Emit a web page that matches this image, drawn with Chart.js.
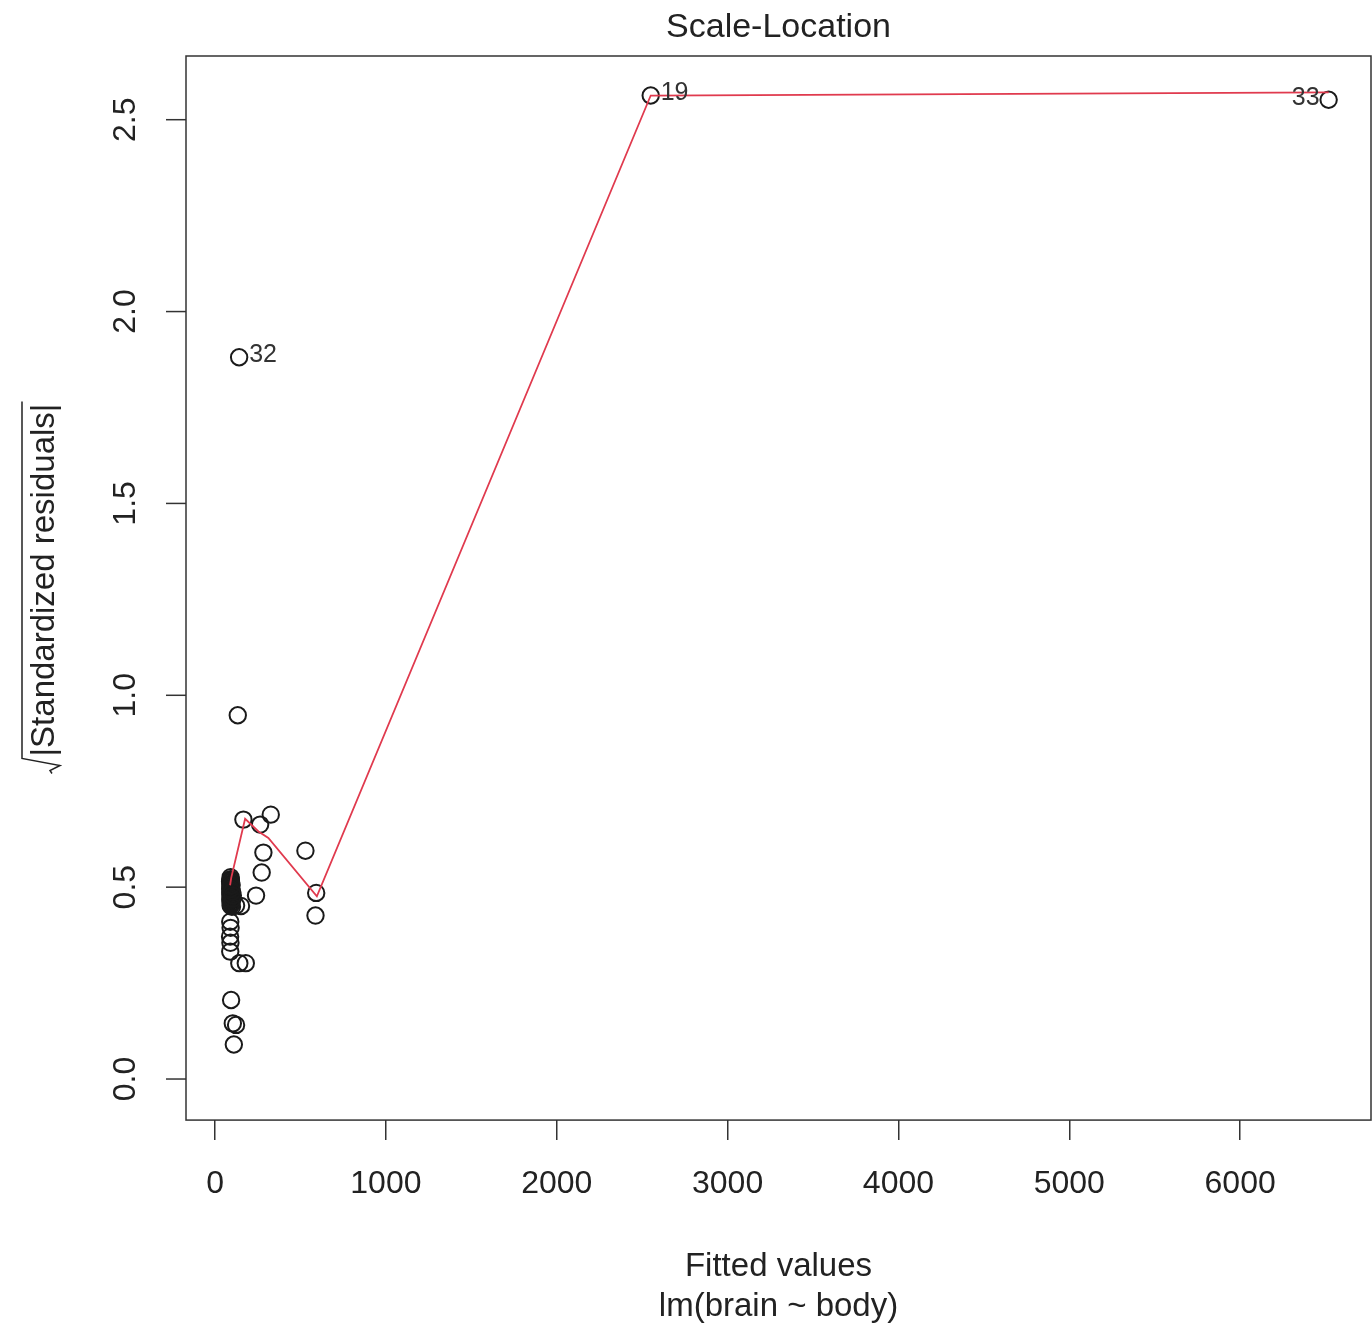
<!DOCTYPE html>
<html>
<head>
<meta charset="utf-8">
<title>Scale-Location</title>
<script src="https://cdn.jsdelivr.net/npm/chart.js@4"></script>
<style>
  html, body { margin: 0; padding: 0; background: #fff; }
  canvas { display: block; }
</style>
</head>
<body>
<canvas id="slChart" width="1372" height="1328"></canvas>
<script>
// Fitted values and sqrt(|standardized residuals|)
const fitted = [
    141, 2550, 6518,
    133, 166, 264, 326, 283, 529, 273, 240, 592, 588, 152, 142, 180, 94, 104, 123, 110,
    89, 91, 88, 90, 89,
    91, 92, 90, 93, 91, 92, 94, 91, 90, 93, 92, 91, 95, 92, 90, 93, 91, 96, 92, 94,
    91, 93, 92, 90, 94, 91, 93, 95, 91, 99, 123, 102, 88, 89, 97, 100, 104
];
const sqrtResid = [
    1.881, 2.563, 2.552,
    0.948, 0.676, 0.663, 0.689, 0.590, 0.595, 0.538, 0.478, 0.485, 0.426, 0.451, 0.302, 0.302, 0.206, 0.145, 0.141, 0.090,
    0.410, 0.394, 0.371, 0.355, 0.332,
    0.526, 0.519, 0.512, 0.507, 0.501, 0.498, 0.495, 0.489, 0.486, 0.483, 0.480, 0.477, 0.474, 0.471, 0.468, 0.466, 0.463, 0.460, 0.458, 0.455,
    0.521, 0.516, 0.509, 0.503, 0.492, 0.482, 0.473, 0.467, 0.452, 0.449, 0.452, 0.470, 0.515, 0.495, 0.505, 0.488, 0.478
];

// smoother (red line)
const smoothX = [88, 95, 176, 254, 312, 596, 2550, 6518];
const smoothY = [0.505, 0.525, 0.678, 0.645, 0.628, 0.476, 2.563, 2.571];

// labelled observations
const idLabels = ['32', '19', '33'];
const idFitted = [141, 2550, 6518];
const idResid = [1.881, 2.563, 2.552];
const idSide = ['right', 'right', 'left'];

const xTicks = [0, 1000, 2000, 3000, 4000, 5000, 6000];
const yTicks = [0, 0.5, 1.0, 1.5, 2.0, 2.5];
const yTickLabels = ['0.0', '0.5', '1.0', '1.5', '2.0', '2.5'];

const FONT = "'Liberation Sans', Arial, sans-serif";
const INK = '#222';

// box, y axis (rotated labels like R), point ids
const rPlotExtras = {
    id: 'rPlotExtras',
    afterDraw(chart) {
        const ctx = chart.ctx;
        const a = chart.chartArea;
        const ys = chart.scales.y;
        const xs = chart.scales.x;

        ctx.save();
        ctx.strokeStyle = '#333';
        ctx.lineWidth = 1.5;
        ctx.strokeRect(a.left, a.top, a.right - a.left, a.bottom - a.top);

        // y ticks
        ctx.fillStyle = INK;
        ctx.font = `32px ${FONT}`;
        ctx.textAlign = 'center';
        ctx.textBaseline = 'middle';
        yTicks.forEach((v, i) => {
            const py = ys.getPixelForValue(v);
            ctx.beginPath();
            ctx.moveTo(a.left - 20, py);
            ctx.lineTo(a.left, py);
            ctx.stroke();
            ctx.save();
            ctx.translate(126, py);
            ctx.rotate(-Math.PI / 2);
            ctx.fillText(yTickLabels[i], 0, 0);
            ctx.restore();
        });

        // y title with radical sign
        ctx.save();
        ctx.translate(45, (a.top + a.bottom) / 2);
        ctx.rotate(-Math.PI / 2);
        ctx.font = `33px ${FONT}`;
        const txt = '|Standardized residuals|';
        const w = ctx.measureText(txt).width;
        ctx.fillText(txt, 8, 0);
        ctx.lineWidth = 1.5;
        ctx.strokeStyle = INK;
        ctx.beginPath();
        ctx.moveTo(8 + w / 2 + 2, -23);
        ctx.lineTo(8 - w / 2 - 2, -23);
        ctx.lineTo(8 - w / 2 - 9, 15);
        ctx.lineTo(8 - w / 2 - 14, 5);
        ctx.lineTo(8 - w / 2 - 17, 7);
        ctx.stroke();
        ctx.restore();

        // id labels
        ctx.font = `25px ${FONT}`;
        ctx.fillStyle = '#333';
        idLabels.forEach((lab, i) => {
            const px = xs.getPixelForValue(idFitted[i]);
            const py = ys.getPixelForValue(idResid[i]);
            ctx.textAlign = idSide[i] === 'right' ? 'left' : 'right';
            ctx.fillText(lab, idSide[i] === 'right' ? px + 10 : px - 9, py - 2);
        });
        ctx.restore();
    }
};

const points = fitted.map((f, i) => ({ x: f, y: sqrtResid[i] }));
const smooth = smoothX.map((f, i) => ({ x: f, y: smoothY[i] }));

new Chart(document.getElementById('slChart'), {
    type: 'scatter',
    data: {
        datasets: [
            {
                label: 'smooth',
                data: smooth,
                showLine: true,
                borderColor: '#e03a4e',
                borderWidth: 1.8,
                pointRadius: 0,
                tension: 0
            },
            {
                label: 'residuals',
                data: points,
                pointStyle: 'circle',
                pointRadius: 8.2,
                borderWidth: 2,
                borderColor: '#1a1a1a',
                backgroundColor: 'rgba(0,0,0,0)'
            }
        ]
    },
    plugins: [rPlotExtras],
    options: {
        responsive: false,
        animation: false,
        devicePixelRatio: 1,
        layout: { autoPadding: false, padding: { left: 186, right: 1, top: 0, bottom: 0 } },
        plugins: {
            legend: { display: false },
            tooltip: { enabled: false },
            title: {
                display: true,
                text: 'Scale-Location',
                color: INK,
                font: { family: FONT, size: 34, weight: 'normal', lineHeight: 1.2 },
                padding: { top: 7, bottom: 8.2 }
            }
        },
        scales: {
            x: {
                type: 'linear',
                min: -170,
                max: 6766,
                afterBuildTicks: s => { s.ticks = xTicks.map(v => ({ value: v })); },
                afterFit: s => { s.paddingLeft = 0; s.paddingRight = 0; },
                border: { display: false },
                grid: {
                    drawOnChartArea: false,
                    drawTicks: true,
                    tickLength: 20,
                    color: '#333',
                    lineWidth: 1.5
                },
                ticks: {
                    color: INK,
                    padding: 25,
                    maxRotation: 0,
                    font: { family: FONT, size: 32, lineHeight: 1.2 },
                    callback: v => String(v)
                },
                title: {
                    display: true,
                    text: ['Fitted values', 'lm(brain ~ body)'],
                    color: INK,
                    font: { family: FONT, size: 33, lineHeight: 1.22 },
                    padding: { top: 18, bottom: 1 }
                }
            },
            y: {
                type: 'linear',
                display: false,
                min: -0.107,
                max: 2.666
            }
        }
    }
});
</script>
</body>
</html>
